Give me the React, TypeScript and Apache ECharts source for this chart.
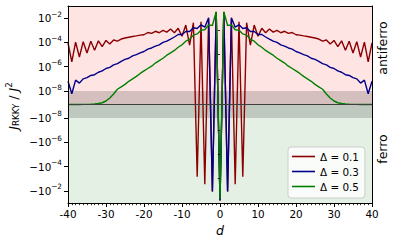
import React, { useEffect, useRef } from "react";
import * as echarts from "echarts";

// distance d (sites)
const distances = [
  -40, -39, -38, -37, -36, -35, -34, -33, -32, -31, -30, -29, -28, -27, -26, -25, -24, -23, -22, -21,
  -20, -19, -18, -17, -16, -15, -14, -13, -12, -11, -10, -9, -8, -7, -6, -5, -4, -3, -2, -1,
  0,
  1, 2, 3, 4, 5, 6, 7, 8, 9, 10, 11, 12, 13, 14, 15, 16, 17, 18, 19, 20,
  21, 22, 23, 24, 25, 26, 27, 28, 29, 30, 31, 32, 33, 34, 35, 36, 37, 38, 39, 40,
];

// J_RKKY / J^2 for Delta = 0.1
const jDelta01 = [
  9.0e-5, 2.5e-6, 1.07e-4, 6.3e-6, 1.15e-4, 1.35e-5, 1.26e-4, 2.3e-5, 1.35e-4, 4.6e-5,
  1.45e-4, 7.4e-5, 1.6e-4, 1.3e-4, 1.9e-4, 2.3e-4, 2.7e-4, 3.1e-4, 3.5e-4, 4.0e-4,
  4.3e-4, 6.6e-4, 5.6e-4, 8.3e-4, 6.3e-4, 1.0e-3, 7.1e-4, 1.26e-3, 6.3e-4, 1.45e-3,
  3.2e-4, 2.7e-3, 6.0e-5, 4.2e-3, -6.8e-4, 5.0e-3, -2.9e-3, 9.0e-3, -1.2e-2, 3.0e-2,
  -6.5e-2,
  3.0e-2, -1.2e-2, 9.0e-3, -2.9e-3, 5.0e-3, -6.8e-4, 4.2e-3, 6.0e-5, 2.7e-3, 3.2e-4,
  1.45e-3, 6.3e-4, 1.26e-3, 7.1e-4, 1.0e-3, 6.3e-4, 8.3e-4, 5.6e-4, 6.6e-4, 4.3e-4,
  4.0e-4, 3.5e-4, 3.1e-4, 2.7e-4, 2.3e-4, 1.9e-4, 1.3e-4, 1.6e-4, 7.4e-5, 1.45e-4,
  4.6e-5, 1.35e-4, 2.3e-5, 1.26e-4, 1.35e-5, 1.15e-4, 6.3e-6, 1.07e-4, 2.5e-6, 9.0e-5,
];

// J_RKKY / J^2 for Delta = 0.3
const jDelta03 = [
  6.3e-8, 8.0e-9, 7.9e-8, 4.5e-8, 1.0e-7, 1.26e-7, 1.9e-7, 2.2e-7, 3.5e-7, 4.5e-7,
  7.1e-7, 8.9e-7, 1.4e-6, 1.8e-6, 2.8e-6, 4.0e-6, 5.0e-6, 7.9e-6, 1.0e-5, 1.4e-5,
  1.8e-5, 2.8e-5, 3.5e-5, 5.0e-5, 6.3e-5, 1.0e-4, 1.3e-4, 1.9e-4, 2.8e-4, 4.5e-4,
  4.5e-4, 7.9e-4, 7.9e-4, 1.6e-3, 1.4e-3, 2.8e-3, 1.8e-3, 1.05e-2, -1.1e-2, 3.0e-2,
  -5.8e-2,
  3.0e-2, -1.1e-2, 1.05e-2, 1.8e-3, 2.8e-3, 1.4e-3, 1.6e-3, 7.9e-4, 7.9e-4, 4.5e-4,
  4.5e-4, 2.8e-4, 1.9e-4, 1.3e-4, 1.0e-4, 6.3e-5, 5.0e-5, 3.5e-5, 2.8e-5, 1.8e-5,
  1.4e-5, 1.0e-5, 7.9e-6, 5.0e-6, 4.0e-6, 2.8e-6, 1.8e-6, 1.4e-6, 8.9e-7, 7.1e-7,
  4.5e-7, 3.5e-7, 2.2e-7, 1.9e-7, 1.26e-7, 1.0e-7, 4.5e-8, 7.9e-8, 8.0e-9, 6.3e-8,
];

// J_RKKY / J^2 for Delta = 0.5
const jDelta05 = [
  5e-12, 1e-11, 2e-11, 3e-11, 6e-11, 1e-10, 2e-10, 4e-10, 7e-10, 1.3e-9,
  2.6e-9, 4.8e-9, 7.8e-9, 1.4e-8, 2.2e-8, 3.5e-8, 6.3e-8, 1.0e-7, 1.6e-7, 2.8e-7,
  4.5e-7, 7.1e-7, 1.1e-6, 2.0e-6, 3.2e-6, 5.0e-6, 8.9e-6, 1.4e-5, 2.2e-5, 4.0e-5,
  6.3e-5, 1.26e-4, 1.8e-4, 4.0e-4, 5.0e-4, 1.0e-3, 1.1e-3, 2.8e-3, 2.5e-3, 3.4e-2,
  -5.0e-2,
  3.4e-2, 2.5e-3, 2.8e-3, 1.1e-3, 1.0e-3, 5.0e-4, 4.0e-4, 1.8e-4, 1.26e-4, 6.3e-5,
  4.0e-5, 2.2e-5, 1.4e-5, 8.9e-6, 5.0e-6, 3.2e-6, 2.0e-6, 1.1e-6, 7.1e-7, 4.5e-7,
  2.8e-7, 1.6e-7, 1.0e-7, 6.3e-8, 3.5e-8, 2.2e-8, 1.4e-8, 7.8e-9, 4.8e-9, 2.6e-9,
  1.3e-9, 7e-10, 4e-10, 2e-10, 1e-10, 6e-11, 3e-11, 2e-11, 1e-11, 5e-12,
];

const seriesNames = ["Δ = 0.1", "Δ = 0.3", "Δ = 0.5"];
const seriesColors = ["#8b0000", "#00008b", "#008000"];

const xTicks = [-40, -30, -20, -10, 0, 10, 20, 30, 40];
const yTickValues = [1e-2, 1e-4, 1e-6, 1e-8, -1e-8, -1e-6, -1e-4, -1e-2];
const yTickBases = ["10", "10", "10", "10", "−10", "−10", "−10", "−10"];
const yTickExps = ["−2", "−4", "−6", "−8", "−8", "−6", "−4", "−2"];
const yMinorTickValues = [1e-1, 1e-3, 1e-5, 1e-7, -1e-7, -1e-5, -1e-3, -1e-1];
const yLimit = 0.1;
const linThresh = 1e-8;
const regionLabels = ["antiferro", "ferro"];

const LINSCALE_ADJ = 1 / (1 - 1 / 10);
function symlog(v: number): number {
  const a = Math.abs(v);
  if (a <= linThresh) return (v / linThresh) * LINSCALE_ADJ;
  return Math.sign(v) * (LINSCALE_ADJ + Math.log10(a / linThresh));
}

const FONT = "DejaVu Sans";

export default function App() {
  const ref = useRef<HTMLDivElement>(null);
  useEffect(() => {
    const el = ref.current!;
    const chart = echarts.init(el, undefined, { renderer: "svg" });
    const T = symlog(yLimit);
    const L = symlog(linThresh);
    const majorPos = yTickValues.map(symlog);
    const minorPos = yMinorTickValues.map(symlog);
    const allSeries = [jDelta01, jDelta03, jDelta05];

    const option: any = {
      animation: false,
      backgroundColor: "#ffffff",
      textStyle: { fontFamily: FONT },
      grid: { left: 68, top: 6, width: 304, height: 197, containLabel: false },
      legend: {
        data: seriesNames,
        orient: "vertical",
        left: 288,
        top: 147,
        padding: [3, 6, 5, 4],
        itemGap: 2,
        itemWidth: 23,
        itemHeight: 1.6,
        itemTextGap: 8,
        icon: "rect",
        backgroundColor: "rgba(255,255,255,0.8)",
        borderColor: "#cccccc",
        borderWidth: 1,
        borderRadius: 3,
        textStyle: { fontFamily: FONT, fontSize: 10.4, color: "#000", lineHeight: 13 },
      },
      xAxis: [
        {
          type: "value",
          min: xTicks[0],
          max: xTicks[xTicks.length - 1],
          interval: 10,
          position: "bottom",
          z: 5,
          axisLine: { show: true, onZero: false, lineStyle: { color: "#000", width: 1 } },
          axisTick: { show: true, length: 4, lineStyle: { color: "#000", width: 1 } },
          minorTick: { show: true, splitNumber: 10, length: 2.2, lineStyle: { color: "#000", width: 0.8 } },
          axisLabel: { show: true, margin: 6, fontSize: 10.4, color: "#000", fontFamily: FONT, formatter: (v: number) => String(v) },
          splitLine: { show: false },
          minorSplitLine: { show: false },
          name: "d",
          nameLocation: "middle",
          nameGap: 20,
          nameTextStyle: { fontStyle: "italic", fontSize: 12.5, color: "#000", fontFamily: FONT },
        },
        {
          type: "value",
          min: xTicks[0],
          max: xTicks[xTicks.length - 1],
          position: "top",
          z: 5,
          axisLine: { show: true, onZero: false, lineStyle: { color: "#000", width: 1 } },
          axisTick: { show: false },
          axisLabel: { show: false },
          splitLine: { show: false },
        },
      ],
      yAxis: [
        {
          type: "value",
          min: -T,
          max: T,
          position: "left",
          z: 5,
          axisLine: { show: true, onZero: false, lineStyle: { color: "#000", width: 1 } },
          axisTick: { show: true, length: 4, customValues: majorPos, lineStyle: { color: "#000", width: 1 } },
          axisLabel: {
            show: true,
            margin: 6,
            customValues: majorPos,
            color: "#000",
            formatter: (v: number) => {
              let idx = 0;
              let best = Infinity;
              majorPos.forEach((p, i) => {
                const dd = Math.abs(p - v);
                if (dd < best) { best = dd; idx = i; }
              });
              return `{b|${yTickBases[idx]}}{s|${yTickExps[idx]}}`;
            },
            rich: {
              b: { fontSize: 10.4, fontFamily: FONT, color: "#000", lineHeight: 14 },
              s: { fontSize: 7.3, fontFamily: FONT, color: "#000", padding: [0, 0, 8, 0] },
            },
          },
          splitLine: { show: false },
        },
        {
          type: "value",
          min: -T,
          max: T,
          position: "left",
          z: 5,
          axisLine: { show: false },
          axisTick: { show: true, length: 2.2, customValues: minorPos, lineStyle: { color: "#000", width: 0.8 } },
          axisLabel: { show: false },
          splitLine: { show: false },
        },
        {
          type: "value",
          min: -T,
          max: T,
          position: "right",
          z: 5,
          axisLine: { show: true, onZero: false, lineStyle: { color: "#000", width: 1 } },
          axisTick: { show: false },
          axisLabel: { show: false },
          splitLine: { show: false },
        },
      ],
      series: [
        {
          name: "bg",
          type: "line",
          data: [],
          silent: true,
          z: 1,
          markArea: {
            silent: true,
            data: [
              [{ xAxis: -40, yAxis: 0, itemStyle: { color: "rgb(255,228,228)" } }, { xAxis: 40, yAxis: T }],
              [{ xAxis: -40, yAxis: -T, itemStyle: { color: "rgb(229,240,229)" } }, { xAxis: 40, yAxis: 0 }],
              [{ xAxis: -40, yAxis: -L, itemStyle: { color: "rgba(40,40,40,0.2)" } }, { xAxis: 40, yAxis: L }],
            ],
          },
          markLine: {
            silent: true,
            symbol: "none",
            label: { show: false },
            lineStyle: { color: "#404040", width: 1, type: "solid" },
            data: [{ yAxis: 0 }],
          },
        },
        ...allSeries.map((vals, k) => ({
          name: seriesNames[k],
          type: "line",
          data: distances.map((d, i) => [d, symlog(vals[i])]),
          showSymbol: false,
          symbol: "none",
          clip: true,
          z: 3,
          color: seriesColors[k],
          lineStyle: { color: seriesColors[k], width: 1.4 },
          itemStyle: { color: seriesColors[k] },
        })),
      ],
      graphic: [
        {
          type: "text",
          x: 13,
          y: 106,
          rotation: Math.PI / 2,
          style: {
            text: "{j|J}{sub|RKKY}{n| / }{j|J}{sup|2}",
            align: "center",
            verticalAlign: "middle",
            fill: "#000",
            rich: {
              j: { fontSize: 12.5, fontStyle: "italic", fontFamily: FONT, fill: "#000", lineHeight: 16 },
              n: { fontSize: 12.5, fontFamily: FONT, fill: "#000", lineHeight: 16 },
              sub: { fontSize: 8.7, fontFamily: FONT, fill: "#000", padding: [6, 0, 0, 0] },
              sup: { fontSize: 8.7, fontFamily: FONT, fill: "#000", padding: [0, 0, 8, 0] },
            },
          },
        },
        {
          type: "text",
          x: 382,
          y: 48,
          rotation: Math.PI / 2,
          style: { text: regionLabels[0], align: "center", verticalAlign: "middle", fill: "#000", font: `12.5px "${FONT}"` },
        },
        {
          type: "text",
          x: 382,
          y: 149,
          rotation: Math.PI / 2,
          style: { text: regionLabels[1], align: "center", verticalAlign: "middle", fill: "#000", font: `12.5px "${FONT}"` },
        },
      ],
    };
    chart.setOption(option);
    return () => chart.dispose();
  }, []);
  return (
    <div
      ref={ref}
      style={{ position: "absolute", left: 0, top: 0, width: 394, height: 245, background: "#fff" }}
    />
  );
}
